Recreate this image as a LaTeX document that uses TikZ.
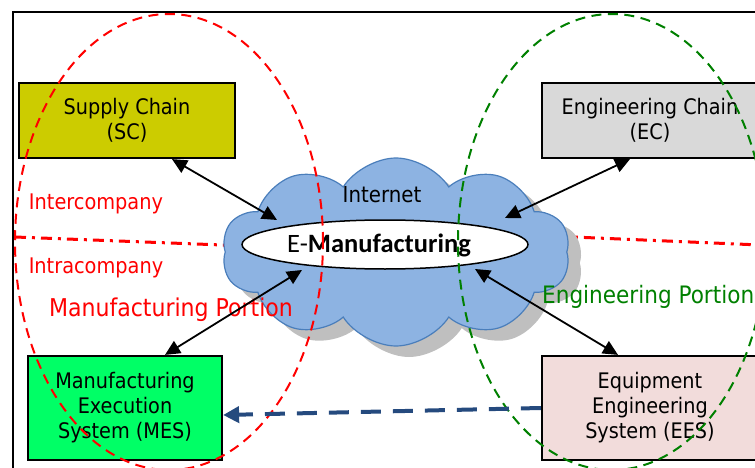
\documentclass[tikz,border=0pt]{standalone}
\usepackage{fontspec}
\setmainfont{DejaVu Sans Condensed}
\newfontfamily\carl{Carlito}
\usetikzlibrary{shapes.geometric,shapes.symbols,arrows.meta,calc}
\definecolor{scfill}{HTML}{CCCC00}
\definecolor{ecfill}{HTML}{D9D9D9}
\definecolor{mesfill}{HTML}{00FF66}
\definecolor{eesfill}{HTML}{F2DCDB}
\definecolor{cloudfill}{HTML}{8DB3E2}
\definecolor{cloudline}{HTML}{4A7EBB}
\definecolor{shadowc}{HTML}{BFBFBF}
\definecolor{myred}{HTML}{FF0000}
\definecolor{mygreen}{HTML}{008000}
\definecolor{myblue}{HTML}{254A7E}
\tikzset{
  boxnode/.style={draw=black, line width=2.2pt, align=center, inner sep=2pt,
    font=\fontsize{21.4}{25}\selectfont},
  cloudshape/.style={cloud, cloud puffs=10, cloud puff arc=115, cloud ignores aspect,
    minimum width=348pt, minimum height=188pt, inner sep=0pt},
  biarrow/.style={line width=1.8pt, {Triangle[length=15pt,width=14pt]}-{Triangle[length=15pt,width=14pt]}},
  reddash/.style={draw=myred, line width=2pt, dash pattern=on 10pt off 6.5pt},
  greendash/.style={draw=mygreen, line width=2pt, dash pattern=on 10pt off 6.5pt},
  ddot/.style={draw=myred, line width=3pt, dash pattern=on 11pt off 6pt on 3pt off 6pt},
  redlabel/.style={text=myred, inner sep=0pt},
}
\begin{document}
\begin{tikzpicture}[x=1pt,y=-1pt]
\useasboundingbox (0,0) rectangle (755,468);
\draw[line width=1.5pt] (13,12) rectangle (775,485);
% dash-dot separators
\coordinate (dl1) at (15,237);
\coordinate (dl2) at (300,248);
\coordinate (dr1) at (480,233);
\coordinate (dr2) at (760,245);
\draw[ddot] (dl1) -- (dl2);
\draw[ddot] (dr1) -- (dr2);
% cloud
\node[cloudshape, fill=shadowc] (cloudsh) at (409,263) {};
\node[cloudshape, fill=cloudfill, draw=cloudline, line width=1.2pt] (cloud) at (396,252) {};
\node[font=\fontsize{22}{26}\selectfont, inner sep=0pt] (internet) at (382,195) {Internet};
\node[ellipse, draw=black, line width=1.5pt, fill=white, minimum width=286pt, minimum height=49pt, inner sep=0pt] (emf) at (385,244.5) {};
\node[font=\carl\fontsize{26.5}{30}\selectfont, inner sep=0pt] (emftext) at (379,245) {E-\textbf{Manufacturing}};
% boxes
\node[boxnode, fill=scfill, minimum width=216pt, minimum height=75pt] (sc) at (127,120.5) {Supply Chain\\(SC)};
\node[boxnode, fill=ecfill, minimum width=216pt, minimum height=75pt] (ec) at (650,120.5) {Engineering Chain\\(EC)};
\node[boxnode, fill=mesfill, minimum width=194pt, minimum height=104pt] (mes) at (125,408) {Manufacturing\\Execution\\System (MES)};
\node[boxnode, fill=eesfill, minimum width=216pt, minimum height=104pt] (ees) at (650,408) {Equipment\\Engineering\\System (EES)};
% labels
\node[redlabel, font=\fontsize{21.5}{24}\selectfont] (inter) at (96,204) {Intercompany};
\node[redlabel, font=\fontsize{21.5}{24}\selectfont] (intra) at (96,268) {Intracompany};
\node[redlabel, font=\fontsize{24.5}{28}\selectfont] (mport) at (171,310) {Manufacturing Portion};
\node[text=mygreen, inner sep=0pt, font=\fontsize{24}{28}\selectfont, anchor=west] (eport) at (542,297) {Engineering Portion};
% portion ellipses
\draw[reddash] (169,242) ellipse [x radius=154pt, y radius=228pt];
\draw[greendash] (612,242) ellipse [x radius=154pt, y radius=228pt];
% arrows
\coordinate (scend) at ($(sc.south)+(45,0)$);
\coordinate (scin) at (277,220);
\coordinate (ecend) at ($(ec.south)+(-20,0)$);
\coordinate (ecin) at (505,218);
\coordinate (mesend) at ($(mes.north)+(40,0)$);
\coordinate (mesin) at (302,270);
\coordinate (eesend) at ($(ees.north)+(-32,0)$);
\coordinate (eesin) at (475,269);
\draw[biarrow] (scend) -- (scin);
\draw[biarrow] (ecend) -- (ecin);
\draw[biarrow] (mesend) -- (mesin);
\draw[biarrow] (eesend) -- (eesin);
\coordinate (bluein) at ($(mes.east)+(0,7)$);
\draw[draw=myblue, line width=4pt, dash pattern=on 20pt off 12pt, -{Triangle[length=16pt,width=16pt]}] (ees.west) -- (bluein);
\end{tikzpicture}
\end{document}
